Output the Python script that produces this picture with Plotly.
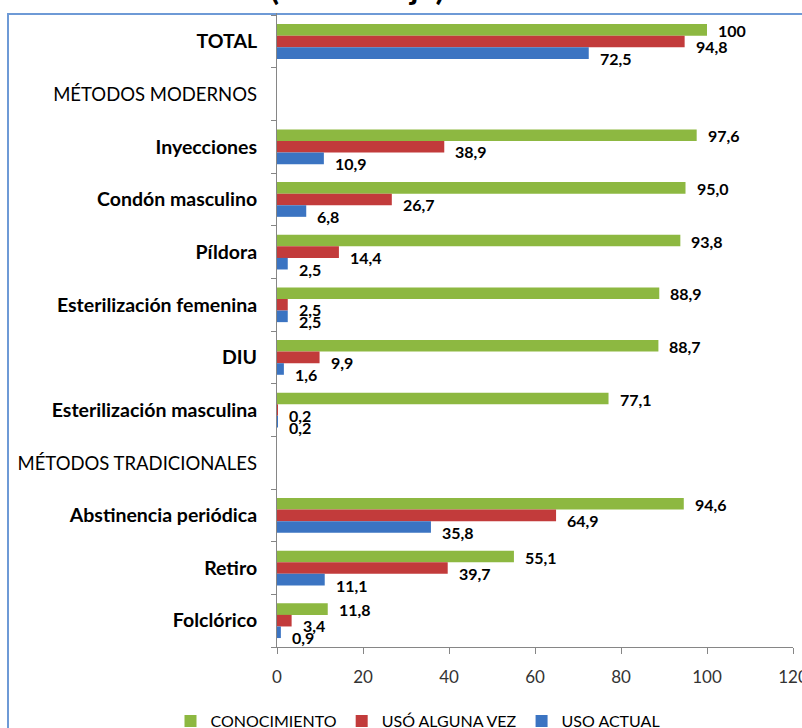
import plotly.graph_objects as go

categories = ["TOTAL", "MÉTODOS MODERNOS", "Inyecciones", "Condón masculino", "Píldora",
              "Esterilización femenina", "DIU", "Esterilización masculina",
              "MÉTODOS TRADICIONALES", "Abstinencia periódica", "Retiro", "Folclórico"]
headers = ["MÉTODOS MODERNOS", "MÉTODOS TRADICIONALES"]

conocimiento = [100, None, 97.6, 95.0, 93.8, 88.9, 88.7, 77.1, None, 94.6, 55.1, 11.8]
uso_alguna_vez = [94.8, None, 38.9, 26.7, 14.4, 2.5, 9.9, 0.2, None, 64.9, 39.7, 3.4]
uso_actual = [72.5, None, 10.9, 6.8, 2.5, 2.5, 1.6, 0.2, None, 35.8, 11.1, 0.9]

series = [
    ("CONOCIMIENTO", conocimiento, "#8DB841", 11),
    ("USÓ ALGUNA VEZ", uso_alguna_vez, "#C23B3B", -5),
    ("USO ACTUAL", uso_actual, "#3B74C2", -17),
]

W, H = 802, 728
ML, MR, MT, MB = 277, 9, 13, 81
PW, PH = W - ML - MR, H - MT - MB


def fmt(v):
    if v == 100:
        return "100"
    return f"{v:.1f}".replace(".", ",")


fig = go.Figure()
annotations = []
for i, (name, vals, color, ysh) in enumerate(series):
    fig.add_trace(go.Bar(
        name=name, y=categories, x=vals, orientation="h",
        marker=dict(color=color, line=dict(width=0)),
        hoverinfo="x+y",
    ))
    for c, v in zip(categories, vals):
        if v is None:
            continue
        annotations.append(dict(
            x=v, y=c, xref="x", yref="y", text=f"<b>{fmt(v)}</b>",
            showarrow=False, xanchor="left", yanchor="middle",
            xshift=9, yshift=ysh,
            font=dict(family="Lato", size=16, color="#000000"),
        ))

ticktext = [f"<span style='font-size:18.5px'>{c}</span>" if c in headers else f"<b>{c}</b>"
            for c in categories]

# title (cut off at top)
annotations.append(dict(
    x=(357 - ML) / PW, y=(H - MB - 9) / PH, xref="paper", yref="paper",
    text="<b>(Porcentaje)</b>", showarrow=False, xanchor="center", yanchor="bottom",
    font=dict(family="Lato", size=33, color="#000000"),
))

fig.update_layout(
    width=W, height=H,
    margin=dict(l=ML, r=MR, t=MT, b=MB, pad=0, autoexpand=False),
    paper_bgcolor="white", plot_bgcolor="white",
    barmode="group", bargap=0.34, bargroupgap=0,
    font=dict(family="Lato", color="#000000"),
    showlegend=True,
    legend=dict(
        orientation="h", x=(418 - ML) / PW, xanchor="center",
        y=(H - MB - 704) / PH, yanchor="top",
        font=dict(family="Lato", size=16, color="#000000"),
        traceorder="normal", itemwidth=30,
    ),
    xaxis=dict(
        range=[0, 120], tickvals=[0, 20, 40, 60, 80, 100, 120],
        showgrid=False, zeroline=False,
        showline=True, linecolor="#868686", linewidth=1,
        ticks="outside", ticklen=6, tickcolor="#868686",
        tickfont=dict(family="Lato", size=17, color="#333333"),
        ticklabelstandoff=9, ticklabeloverflow="allow",
    ),
    yaxis=dict(
        autorange="reversed", categoryorder="array", categoryarray=categories,
        tickvals=categories, ticktext=ticktext,
        showgrid=False, zeroline=False,
        showline=True, linecolor="#868686", linewidth=1,
        ticks="outside", ticklen=5, tickcolor="#868686", tickson="boundaries",
        tickfont=dict(family="Lato", size=19.5, color="#000000"),
        ticklabelstandoff=15,
    ),
    annotations=annotations,
    shapes=[dict(
        type="rect", xref="paper", yref="paper",
        x0=(8 - ML) / PW, x1=(830 - ML) / PW,
        y0=(H - MB - 760) / PH, y1=(H - MB - 14) / PH,
        line=dict(color="#6E9AD6", width=2), fillcolor="rgba(0,0,0,0)", layer="below",
    )],
)

fig.write_html("out.html", config={"displayModeBar": False},
               post_script="document.body.style.margin='0';")
